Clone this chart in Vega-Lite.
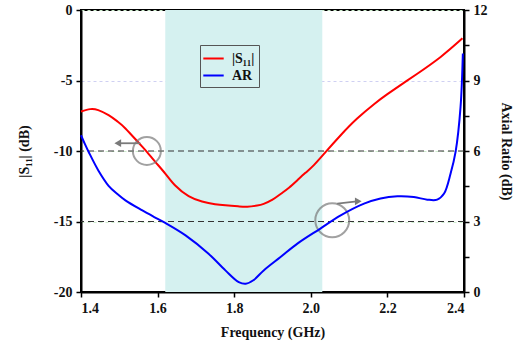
{
  "$schema": "https://vega.github.io/schema/vega-lite/v6.json",
  "width": 383,
  "height": 282,
  "autosize": {"type": "none"},
  "padding": {"left": 81, "top": 10, "right": 53, "bottom": 55},
  "background": "white",
  "config": {
    "view": {"stroke": "black", "strokeWidth": 2},
    "font": "Liberation Serif",
    "axis": {
      "labelFont": "Times New Roman", "labelFontWeight": "bold", "labelFontSize": 14, "labelColor": "#111",
      "titleFont": "Times New Roman", "titleFontWeight": "bold", "titleFontSize": 14, "titleColor": "#111",
      "domainColor": "black", "domainWidth": 2, "tickColor": "black", "tickWidth": 1.5, "tickSize": 5, "grid": false
    },
    "legend": {
      "orient": "none", "legendX": 119, "legendY": 35, "strokeColor": "#555", "padding": 4,
      "symbolType": "M-1.2,0H1.2", "symbolSize": 289, "symbolStrokeWidth": 2, "labelOffset": 9,
      "labelFont": "Times New Roman", "labelFontWeight": "bold", "labelFontSize": 14, "labelColor": "#111",
      "rowPadding": 0, "title": null
    }
  },
  "datasets": {
    "s11": [
      {"f": 1.400, "v": -7.20}, {"f": 1.424, "v": -7.03}, {"f": 1.445, "v": -7.10}, {"f": 1.472, "v": -7.46},
      {"f": 1.495, "v": -7.90}, {"f": 1.516, "v": -8.40}, {"f": 1.550, "v": -9.40}, {"f": 1.572, "v": -10.06},
      {"f": 1.594, "v": -10.77}, {"f": 1.620, "v": -11.60}, {"f": 1.646, "v": -12.45}, {"f": 1.681, "v": -13.20},
      {"f": 1.716, "v": -13.58}, {"f": 1.750, "v": -13.77}, {"f": 1.777, "v": -13.85}, {"f": 1.810, "v": -13.92},
      {"f": 1.834, "v": -13.95}, {"f": 1.860, "v": -13.87}, {"f": 1.877, "v": -13.75}, {"f": 1.900, "v": -13.45},
      {"f": 1.921, "v": -13.05}, {"f": 1.943, "v": -12.60}, {"f": 1.965, "v": -12.07}, {"f": 1.986, "v": -11.55},
      {"f": 2.008, "v": -11.00}, {"f": 2.039, "v": -10.06}, {"f": 2.078, "v": -8.88}, {"f": 2.121, "v": -7.70},
      {"f": 2.165, "v": -6.68}, {"f": 2.200, "v": -5.97}, {"f": 2.240, "v": -5.22}, {"f": 2.278, "v": -4.52},
      {"f": 2.339, "v": -3.33}, {"f": 2.396, "v": -2.01}
    ],
    "ar": [
      {"f": 1.400, "v": 6.67}, {"f": 1.410, "v": 6.30}, {"f": 1.420, "v": 5.96}, {"f": 1.446, "v": 5.15},
      {"f": 1.472, "v": 4.52}, {"f": 1.495, "v": 4.17}, {"f": 1.516, "v": 3.90}, {"f": 1.559, "v": 3.48},
      {"f": 1.590, "v": 3.20}, {"f": 1.620, "v": 2.94}, {"f": 1.673, "v": 2.41}, {"f": 1.733, "v": 1.63},
      {"f": 1.777, "v": 0.92}, {"f": 1.812, "v": 0.42}, {"f": 1.830, "v": 0.35}, {"f": 1.850, "v": 0.50},
      {"f": 1.877, "v": 0.92}, {"f": 1.921, "v": 1.49}, {"f": 1.965, "v": 2.06}, {"f": 2.025, "v": 2.70},
      {"f": 2.078, "v": 3.26}, {"f": 2.139, "v": 3.76}, {"f": 2.182, "v": 3.98}, {"f": 2.226, "v": 4.07},
      {"f": 2.269, "v": 4.04}, {"f": 2.304, "v": 3.93}, {"f": 2.330, "v": 3.93}, {"f": 2.348, "v": 4.19},
      {"f": 2.365, "v": 5.04}, {"f": 2.378, "v": 5.96}, {"f": 2.391, "v": 7.88}, {"f": 2.397, "v": 10.15}
    ]
  },
  "layer": [
    {
      "layer": [
        {
          "data": {"values": [{"f": 1.62, "f2": 2.03}]},
          "mark": {"type": "rect", "color": "#d5f1f0"},
          "encoding": {
            "x": {"field": "f", "type": "quantitative", "scale": {"domain": [1.4, 2.4], "nice": false}},
            "x2": {"field": "f2"}
          }
        },
        {
          "data": {"values": [{"v": -10}, {"v": -15}]},
          "mark": {"type": "rule", "color": "#333", "strokeDash": [6, 4], "strokeWidth": 1.2},
          "encoding": {
            "y": {"field": "v", "type": "quantitative"}
          }
        },
        {
          "data": {"name": "s11"},
          "mark": {"type": "line", "interpolate": "natural", "strokeWidth": 2},
          "encoding": {
            "x": {
              "field": "f", "type": "quantitative",
              "scale": {"domain": [1.4, 2.4], "nice": false},
              "axis": {
                "title": "Frequency (GHz)", "values": [1.4, 1.5, 1.6, 1.7, 1.8, 1.9, 2.0, 2.1, 2.2, 2.3, 2.4],
                "labelExpr": "(round(datum.value*10) % 2 == 0) ? format(datum.value, '.1f') : ''",
                "labelPadding": 4, "titlePadding": 10
              }
            },
            "y": {
              "field": "v", "type": "quantitative",
              "scale": {"domain": [-20, 0], "nice": false},
              "axis": {
                "title": "|S₁₁| (dB)", "orient": "left",
                "values": [-20, -17.5, -15, -12.5, -10, -7.5, -5, -2.5, 0],
                "labelExpr": "datum.value % 5 == 0 ? '' + datum.value : ''",
                "labelPadding": 4, "titlePadding": 22,
                "grid": true, "gridDash": [3, 3], "gridWidth": 1,
                "gridColor": {"condition": {"test": "datum.value == -5", "value": "#cfd0f2"}, "value": "#cdeccd"}
              }
            },
            "color": {
              "datum": "|S₁₁|", "type": "nominal",
              "scale": {"domain": ["|S₁₁|", "AR"], "range": ["#ff0000", "#0000ff"]},
              "legend": {"labelExpr": "datum.label + '\u2003\u2003'"}
            }
          }
        },
        {
          "data": {"values": [{"f": 1.572, "v": -10.0}]},
          "mark": {"type": "point", "shape": "circle", "size": 784, "filled": false, "stroke": "#7a7a7a", "strokeWidth": 2},
          "encoding": {"x": {"field": "f", "type": "quantitative"}, "y": {"field": "v", "type": "quantitative"}}
        },
        {
          "data": {"values": [{"f": 2.056, "v": -14.91}]},
          "mark": {"type": "point", "shape": "circle", "size": 1150, "filled": false, "stroke": "#7a7a7a", "strokeWidth": 2},
          "encoding": {"x": {"field": "f", "type": "quantitative"}, "y": {"field": "v", "type": "quantitative"}}
        },
        {
          "data": {"values": [{"f": 1.555, "f2": 1.500, "v": -9.45, "v2": -9.45}, {"f": 2.069, "f2": 2.120, "v": -13.73, "v2": -13.58}]},
          "mark": {"type": "rule", "color": "#7a7a7a", "strokeWidth": 1.8},
          "encoding": {
            "x": {"field": "f", "type": "quantitative"}, "x2": {"field": "f2"},
            "y": {"field": "v", "type": "quantitative"}, "y2": {"field": "v2"}
          }
        },
        {
          "data": {"values": [{"f": 1.496, "v": -9.45}]},
          "mark": {"type": "point", "shape": "triangle-left", "size": 60, "filled": true, "color": "#7a7a7a", "opacity": 1},
          "encoding": {"x": {"field": "f", "type": "quantitative"}, "y": {"field": "v", "type": "quantitative"}}
        },
        {
          "data": {"values": [{"f": 2.124, "v": -13.57}]},
          "mark": {"type": "point", "shape": "triangle-right", "size": 60, "filled": true, "color": "#7a7a7a", "opacity": 1},
          "encoding": {"x": {"field": "f", "type": "quantitative"}, "y": {"field": "v", "type": "quantitative"}}
        }
      ]
    },
    {
      "data": {"name": "ar"},
      "mark": {"type": "line", "interpolate": "catmull-rom", "strokeWidth": 2},
      "encoding": {
        "x": {"field": "f", "type": "quantitative"},
        "y": {
          "field": "v", "type": "quantitative",
          "scale": {"domain": [0, 12], "nice": false},
          "axis": {
            "title": "Axial Ratio (dB)", "orient": "right",
            "values": [0, 1.5, 3, 4.5, 6, 7.5, 9, 10.5, 12],
            "labelExpr": "datum.value % 3 == 0 ? '' + datum.value : ''",
            "labelPadding": 4, "titlePadding": 11
          }
        },
        "color": {"datum": "AR", "type": "nominal"}
      }
    }
  ],
  "resolve": {"scale": {"y": "independent"}}
}
